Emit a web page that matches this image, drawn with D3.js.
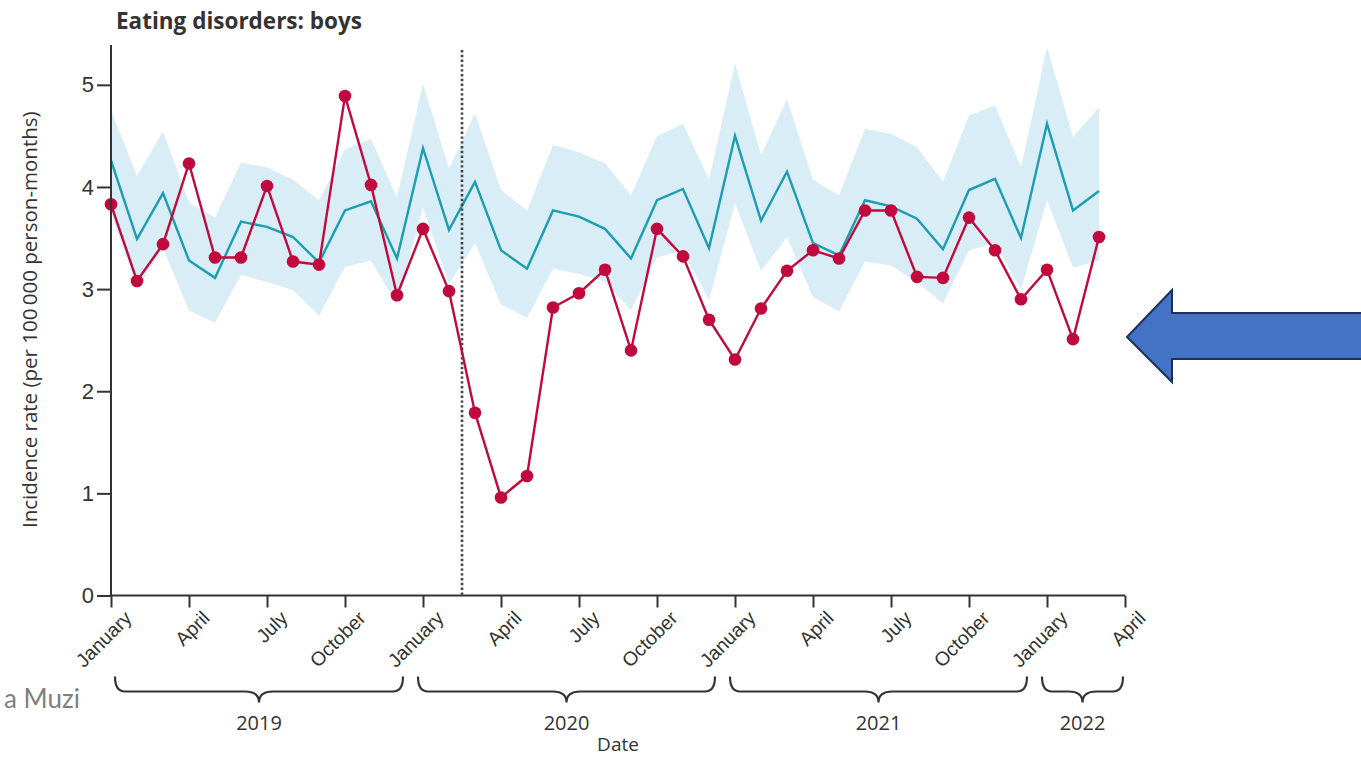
<!DOCTYPE html>
<html>
<head>
<meta charset="utf-8">
<script src="https://cdn.jsdelivr.net/npm/d3@7"></script>
<style>
  body { margin: 0; background: #fff; }
  svg { display: block; font-family: 'Open Sans', sans-serif; }
  .axis path, .axis line { stroke: #333; stroke-width: 2; }
  .axis text { fill: #333; }
</style>
</head>
<body>
<div id="chart"></div>
<script>
// Monthly incidence, January 2019 - March 2022 (one value per month)
const observed = [
  3.83, 3.08, 3.44, 4.23, 3.31, 3.31, 4.01, 3.27, 3.24, 4.89, 4.02, 2.94,
  3.59, 2.98, 1.79, 0.96, 1.17, 2.82, 2.96, 3.19, 2.40, 3.59, 3.32, 2.70,
  2.31, 2.81, 3.18, 3.38, 3.30, 3.77, 3.77, 3.12, 3.11, 3.70, 3.38, 2.90,
  3.19, 2.51, 3.51
];
const expected = [
  4.26, 3.49, 3.94, 3.28, 3.11, 3.66, 3.61, 3.51, 3.26, 3.77, 3.86, 3.30,
  4.38, 3.58, 4.05, 3.38, 3.20, 3.77, 3.71, 3.59, 3.30, 3.87, 3.98, 3.40,
  4.50, 3.67, 4.15, 3.45, 3.33, 3.87, 3.81, 3.69, 3.39, 3.97, 4.08, 3.50,
  4.62, 3.77, 3.96
];
const upper = [
  4.75, 4.11, 4.54, 3.85, 3.70, 4.24, 4.19, 4.07, 3.87, 4.37, 4.47, 3.90,
  5.01, 4.18, 4.72, 3.97, 3.77, 4.41, 4.34, 4.23, 3.92, 4.50, 4.62, 4.07,
  5.21, 4.31, 4.86, 4.07, 3.92, 4.57, 4.52, 4.39, 4.05, 4.70, 4.80, 4.19,
  5.37, 4.49, 4.78
];
const lower = [
  3.75, 3.00, 3.40, 2.79, 2.67, 3.14, 3.07, 2.99, 2.74, 3.22, 3.28, 2.85,
  3.80, 3.05, 3.45, 2.85, 2.72, 3.20, 3.15, 3.07, 2.79, 3.31, 3.38, 2.89,
  3.84, 3.18, 3.51, 2.92, 2.78, 3.27, 3.23, 3.07, 2.86, 3.38, 3.45, 2.99,
  3.87, 3.21, 3.28
];

// x ticks every quarter, month index from January 2019
const tickIndex = [0, 3, 6, 9, 12, 15, 18, 21, 24, 27, 30, 33, 36, 39];
const tickLabels = ['January', 'April', 'July', 'October', 'January', 'April', 'July', 'October',
  'January', 'April', 'July', 'October', 'January', 'April'];

const years = ['2019', '2020', '2021', '2022'];
const yearFirst = [0, 12, 24, 36];
const yearLast = [11, 23, 35, 39];

const yTicks = [0, 1, 2, 3, 4, 5];
const lockdownIndex = 13.5; // dotted line, spring 2020

const config = {
  width: 1361,
  height: 757,
  margin: { top: 45, right: 236, bottom: 161.5, left: 111 }
};
const innerW = config.width - config.margin.left - config.margin.right;
const innerH = config.height - config.margin.top - config.margin.bottom;

const svg = d3.select('#chart').append('svg')
  .attr('width', config.width)
  .attr('height', config.height);

const chart = svg.append('g')
  .attr('transform', `translate(${config.margin.left},${config.margin.top})`);

// Scales
const xScale = d3.scaleLinear().domain([0, 39]).range([0, innerW]);
const yScale = d3.scaleLinear().domain([0, 5.39]).range([innerH, 0]);

const rows = observed.map((d, i) => ({
  i: i, obs: d, exp: expected[i], lo: lower[i], hi: upper[i]
}));

// Confidence band
chart.append('path')
  .datum(rows)
  .attr('fill', '#d9edf6')
  .attr('d', d3.area()
    .x(d => xScale(d.i))
    .y0(d => yScale(d.lo))
    .y1(d => yScale(d.hi)));

// Expected line
chart.append('path')
  .datum(rows)
  .attr('fill', 'none')
  .attr('stroke', '#1d9db0')
  .attr('stroke-width', 2.4)
  .attr('d', d3.line().x(d => xScale(d.i)).y(d => yScale(d.exp)));

// Lockdown marker
chart.append('line')
  .attr('x1', xScale(lockdownIndex)).attr('x2', xScale(lockdownIndex))
  .attr('y1', 5).attr('y2', innerH)
  .attr('stroke', '#444')
  .attr('stroke-width', 2.6)
  .attr('stroke-dasharray', '2.4,2.4');

// Observed line + dots
chart.append('path')
  .datum(rows)
  .attr('fill', 'none')
  .attr('stroke', '#c00a3d')
  .attr('stroke-width', 2.4)
  .attr('d', d3.line().x(d => xScale(d.i)).y(d => yScale(d.obs)));

chart.selectAll('.dot')
  .data(rows)
  .join('circle')
  .attr('class', 'dot')
  .attr('cx', d => xScale(d.i))
  .attr('cy', d => yScale(d.obs))
  .attr('r', 6.3)
  .attr('fill', '#c00a3d');

// Axes
const yAxis = d3.axisLeft(yScale).tickValues(yTicks).tickSize(14).tickPadding(3)
  .tickFormat(d3.format('d'));
const yAxisG = chart.append('g').attr('class', 'axis').call(yAxis);
yAxisG.select('.domain').attr('d', `M0,0V${innerH}`);
yAxisG.selectAll('text').style('font-size', '22px');

const xAxis = d3.axisBottom(xScale).tickValues(tickIndex).tickSize(12).tickFormat('');
const xAxisG = chart.append('g').attr('class', 'axis')
  .attr('transform', `translate(0,${innerH})`)
  .call(xAxis);
xAxisG.select('.domain').attr('d', `M0,0H${innerW}`);

xAxisG.selectAll('.tick-label')
  .data(tickIndex)
  .join('text')
  .attr('class', 'tick-label')
  .attr('transform', d => `translate(${xScale(d) + 12},${14}) rotate(-45)`)
  .attr('text-anchor', 'end')
  .attr('dy', '0.72em')
  .style('font-size', '19.5px')
  .text((d, i) => tickLabels[i]);

// Year braces
const braceTop = innerH + 81, braceBar = innerH + 96, braceTip = innerH + 107;
const bracePath = (x0, x1) => {
  const xm = (x0 + x1) / 2;
  return `M${x0},${braceTop} Q${x0},${braceBar} ${x0 + 10},${braceBar} L${xm - 14},${braceBar}` +
    ` Q${xm},${braceBar} ${xm},${braceTip} Q${xm},${braceBar} ${xm + 14},${braceBar}` +
    ` L${x1 - 10},${braceBar} Q${x1},${braceBar} ${x1},${braceTop}`;
};

years.forEach((yr, k) => {
  const x0 = Math.max(xScale(yearFirst[k]) - 5, xScale(0) + 4);
  const x1 = Math.min(xScale(yearLast[k]) + 6, xScale(39) - 2);
  chart.append('path')
    .attr('d', bracePath(x0, x1))
    .attr('fill', 'none')
    .attr('stroke', '#333')
    .attr('stroke-width', 2.2);
  chart.append('text')
    .attr('x', (x0 + x1) / 2)
    .attr('y', innerH + 134)
    .attr('text-anchor', 'middle')
    .attr('fill', '#333')
    .style('font-size', '20px')
    .text(yr);
});

// Axis titles
chart.append('text')
  .attr('x', xScale(19.5))
  .attr('y', innerH + 155)
  .attr('text-anchor', 'middle')
  .attr('fill', '#333')
  .style('font-size', '19px')
  .text('Date');

svg.append('text')
  .attr('transform', `translate(37,${config.margin.top + yScale(2.7)}) rotate(-90)`)
  .attr('text-anchor', 'middle')
  .attr('fill', '#333')
  .style('font-size', '20.5px')
  .text('Incidence rate (per 100\u2009000 person-months)');

svg.append('text')
  .attr('x', 116)
  .attr('y', 29)
  .attr('fill', '#333')
  .style('font-size', '22.5px')
  .style('font-weight', 'bold')
  .text('Eating disorders: boys');

// Slide leftovers: cut-off author credit and pointer arrow
svg.append('text')
  .attr('x', 80)
  .attr('y', 708)
  .attr('text-anchor', 'end')
  .attr('fill', '#7f7f7f')
  .style('font-family', 'Lato, sans-serif')
  .style('font-size', '26px')
  .text('a Muzi');

svg.append('path')
  .attr('d', 'M1127,337 L1172,290 L1172,313 L1364,313 L1364,359 L1172,359 L1172,382 Z')
  .attr('fill', '#4472c4')
  .attr('stroke', '#1f3056')
  .attr('stroke-width', 2);
</script>
</body>
</html>
